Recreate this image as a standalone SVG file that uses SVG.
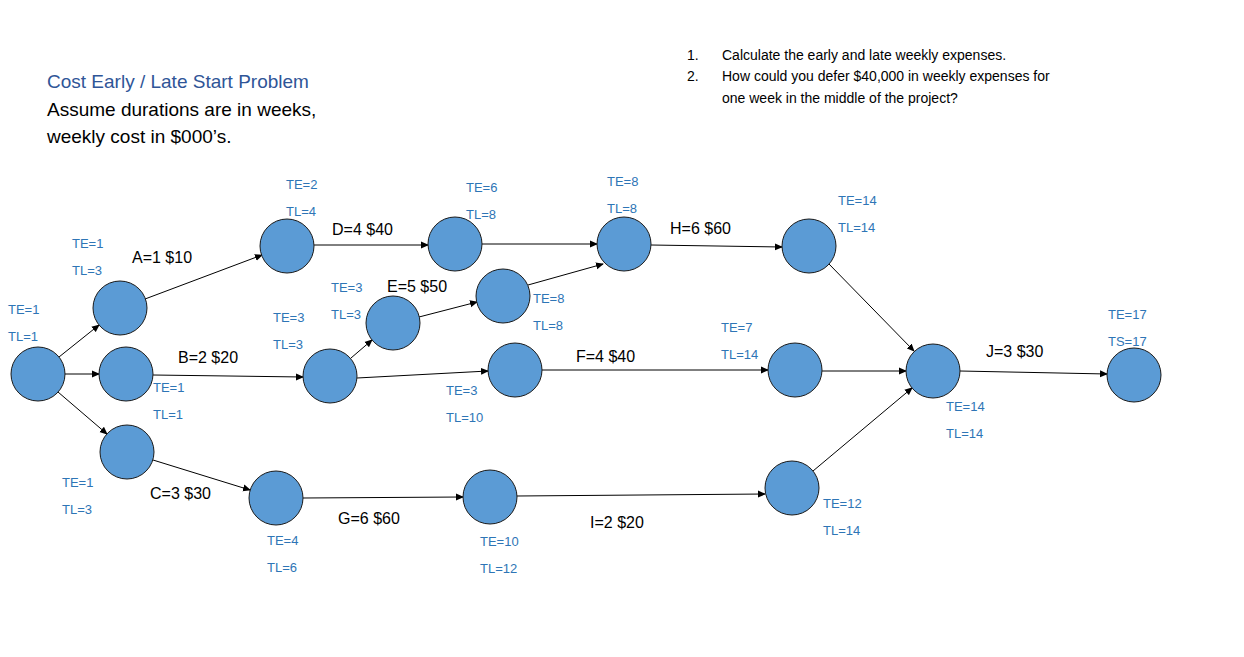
<svg xmlns="http://www.w3.org/2000/svg" width="1244" height="657" viewBox="0 0 1244 657">
<defs>
<marker id="ah" markerWidth="8" markerHeight="8" refX="7" refY="4" orient="auto" markerUnits="userSpaceOnUse"><path d="M0,0.5 L8,4 L0,7.5 z" fill="#000"/></marker>
<style>
.n{fill:#5B9BD5;stroke:#1a1a1a;stroke-width:1}
.e{stroke:#000;stroke-width:1;fill:none;marker-end:url(#ah)}
.b{font-family:"Liberation Sans",Arial,sans-serif;font-size:13px;fill:#2E75B6}
.k{font-family:"Liberation Sans",Arial,sans-serif;font-size:16px;fill:#000}
.q{font-family:"Liberation Sans",Arial,sans-serif;font-size:14px;fill:#000}
</style>
</defs>
<rect width="1244" height="657" fill="#fff"/>
<text x="47" y="88" font-family="Liberation Sans,Arial,sans-serif" font-size="19" fill="#2F5597">Cost Early / Late Start Problem</text>
<text x="47" y="116" font-family="Liberation Sans,Arial,sans-serif" font-size="19" fill="#000">Assume durations are in weeks,</text>
<text x="47" y="143" font-family="Liberation Sans,Arial,sans-serif" font-size="19" fill="#000">weekly cost in $000’s.</text>
<text x="687" y="60" class="q">1.</text><text x="722" y="60" class="q">Calculate the early and late weekly expenses.</text>
<text x="687" y="81" class="q">2.</text><text x="722" y="81" class="q">How could you defer $40,000 in weekly expenses for</text>
<text x="722" y="103" class="q">one week in the middle of the project?</text>
<g id="connectors">
<line class="e" x1="59" y1="357" x2="99" y2="325"/>
<line class="e" x1="65" y1="374" x2="99" y2="374"/>
<line class="e" x1="58" y1="392" x2="107" y2="434"/>
<line class="e" x1="145" y1="299" x2="262" y2="255"/>
<line class="e" x1="314" y1="245" x2="428" y2="245"/>
<line class="e" x1="482" y1="244" x2="597" y2="244"/>
<line class="e" x1="651" y1="245" x2="782" y2="247"/>
<line class="e" x1="828" y1="263" x2="914" y2="351"/>
<line class="e" x1="153" y1="375" x2="303" y2="377"/>
<line class="e" x1="351" y1="358" x2="372" y2="340"/>
<line class="e" x1="419" y1="317" x2="477" y2="302"/>
<line class="e" x1="528" y1="285" x2="603" y2="264"/>
<line class="e" x1="357" y1="378" x2="488" y2="371"/>
<line class="e" x1="542" y1="370" x2="768" y2="370"/>
<line class="e" x1="822" y1="371" x2="906" y2="371"/>
<line class="e" x1="960" y1="371" x2="1107" y2="374"/>
<line class="e" x1="153" y1="460" x2="250" y2="490"/>
<line class="e" x1="303" y1="498" x2="463" y2="497"/>
<line class="e" x1="517" y1="496" x2="765" y2="494"/>
<line class="e" x1="813" y1="471" x2="912" y2="388"/>
</g>
<g id="n0"><circle class="n" cx="38" cy="374" r="27"/><text class="b" x="8" y="314">TE=1</text><text class="b" x="8" y="341">TL=1</text></g>
<g id="n1"><circle class="n" cx="120" cy="308" r="27"/><text class="b" x="72" y="248">TE=1</text><text class="b" x="72" y="275">TL=3</text></g>
<g id="n2"><circle class="n" cx="126" cy="374" r="27"/><text class="b" x="153" y="392">TE=1</text><text class="b" x="153" y="419">TL=1</text></g>
<g id="n3"><circle class="n" cx="127" cy="452" r="27"/><text class="b" x="62" y="487">TE=1</text><text class="b" x="62" y="514">TL=3</text></g>
<g id="n4"><circle class="n" cx="287" cy="246" r="27"/><text class="b" x="286" y="189">TE=2</text><text class="b" x="286" y="216">TL=4</text></g>
<g id="n5"><circle class="n" cx="455" cy="244" r="27"/><text class="b" x="466" y="192">TE=6</text><text class="b" x="466" y="219">TL=8</text></g>
<g id="n6"><circle class="n" cx="624" cy="244" r="27"/><text class="b" x="607" y="186">TE=8</text><text class="b" x="607" y="213">TL=8</text></g>
<g id="n7"><circle class="n" cx="809" cy="246" r="27"/><text class="b" x="838" y="205">TE=14</text><text class="b" x="838" y="232">TL=14</text></g>
<g id="n8"><circle class="n" cx="503" cy="296" r="27"/><text class="b" x="533" y="303">TE=8</text><text class="b" x="533" y="330">TL=8</text></g>
<g id="n9"><circle class="n" cx="393" cy="323" r="27"/><text class="b" x="331" y="292">TE=3</text><text class="b" x="331" y="319">TL=3</text></g>
<g id="n10"><circle class="n" cx="330" cy="376" r="27"/><text class="b" x="273" y="322">TE=3</text><text class="b" x="273" y="349">TL=3</text></g>
<g id="n11"><circle class="n" cx="515" cy="370" r="27"/><text class="b" x="446" y="395">TE=3</text><text class="b" x="446" y="422">TL=10</text></g>
<g id="n12"><circle class="n" cx="795" cy="370" r="27"/><text class="b" x="721" y="332">TE=7</text><text class="b" x="721" y="359">TL=14</text></g>
<g id="n13"><circle class="n" cx="933" cy="371" r="27"/><text class="b" x="946" y="411">TE=14</text><text class="b" x="946" y="438">TL=14</text></g>
<g id="n14"><circle class="n" cx="1134" cy="375" r="27"/><text class="b" x="1108" y="319">TE=17</text><text class="b" x="1108" y="346">TS=17</text></g>
<g id="n15"><circle class="n" cx="276" cy="498" r="27"/><text class="b" x="267" y="545">TE=4</text><text class="b" x="267" y="572">TL=6</text></g>
<g id="n16"><circle class="n" cx="490" cy="497" r="27"/><text class="b" x="480" y="546">TE=10</text><text class="b" x="480" y="573">TL=12</text></g>
<g id="n17"><circle class="n" cx="792" cy="488" r="27"/><text class="b" x="823" y="508">TE=12</text><text class="b" x="823" y="535">TL=14</text></g>
<g id="labels">
<text class="k" x="132" y="263">A=1  $10</text>
<text class="k" x="178" y="363">B=2  $20</text>
<text class="k" x="150" y="499">C=3  $30</text>
<text class="k" x="332" y="235">D=4  $40</text>
<text class="k" x="387" y="292">E=5  $50</text>
<text class="k" x="576" y="362">F=4  $40</text>
<text class="k" x="338" y="524">G=6  $60</text>
<text class="k" x="670" y="234">H=6  $60</text>
<text class="k" x="590" y="528">I=2  $20</text>
<text class="k" x="986" y="357">J=3  $30</text>
</g>
</svg>
